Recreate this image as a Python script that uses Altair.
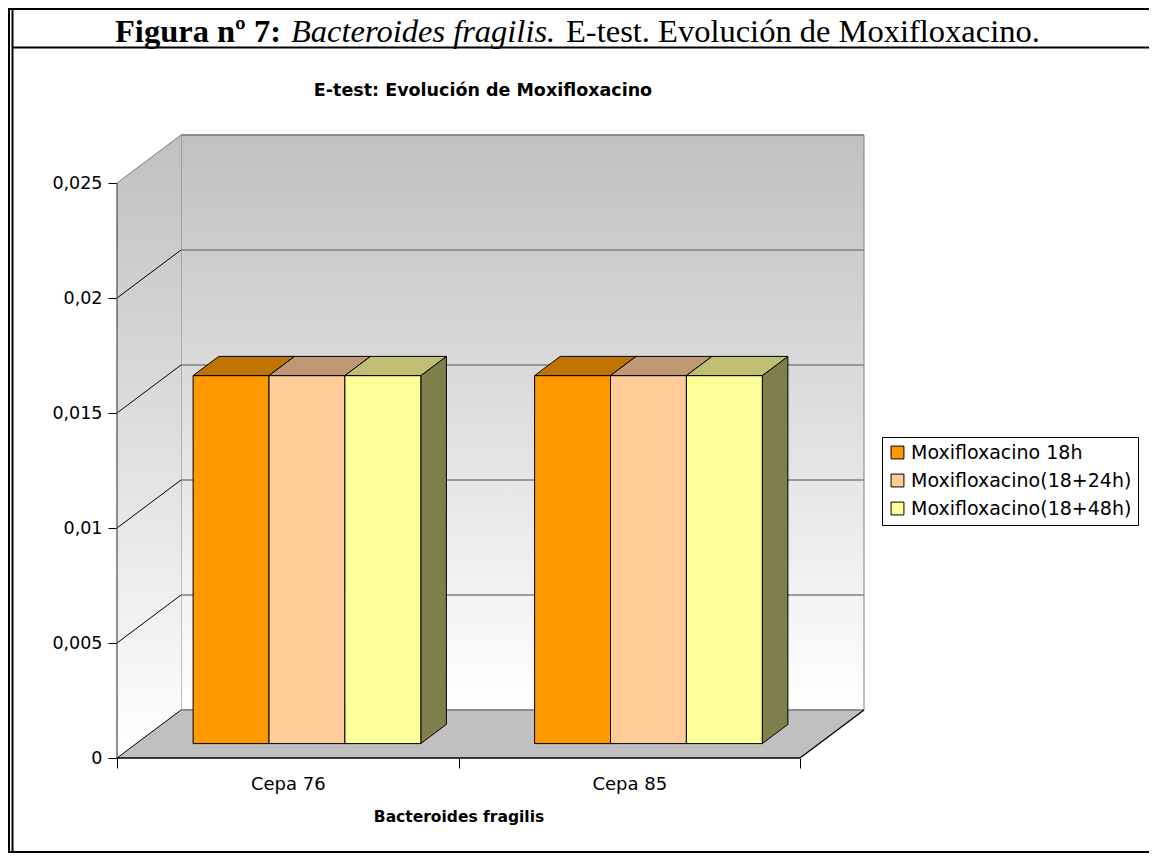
import altair as alt
import pandas as pd

# ---------------- data ----------------
categories = ["Cepa 76", "Cepa 85"]
series = ["Moxifloxacino 18h", "Moxifloxacino(18+24h)", "Moxifloxacino(18+48h)"]
moxi_18h = [0.016, 0.016]
moxi_18_24h = [0.016, 0.016]
moxi_18_48h = [0.016, 0.016]
y_ticks = [0, 0.005, 0.01, 0.015, 0.02, 0.025]
y_max = 0.025

front_colors = ["#FF9900", "#FFCC99", "#FFFF99"]
top_colors = ["#BF7300", "#BF9973", "#BFBF73"]
side_colors = ["#804D00", "#806650", "#7F7F4C"]

# ---------------- layout (pseudo 3-D projection) ----------------
PX_PER_CAT = 341.5
PX_PER_VAL = 23000.0
DEPTH_PX_X, DEPTH_PX_Y = 64.0, 48.0
N = len(categories)
DX = DEPTH_PX_X / PX_PER_CAT
DY = DEPTH_PX_Y / PX_PER_VAL
W = round(N * PX_PER_CAT + DEPTH_PX_X)
H = round(y_max * PX_PER_VAL + DEPTH_PX_Y)
F0, F1 = 0.3, 0.7          # bar depth span (fraction of floor depth)
BAR_W = 1 / 4.5            # gap width 150 %
SANS = "DejaVu Sans"
SERIF = "Liberation Serif"

xs = alt.Scale(domain=[0, N + DX], nice=False, zero=False)
ys = alt.Scale(domain=[0, y_max + DY], nice=False, zero=False)

values = [moxi_18h, moxi_18_24h, moxi_18_48h]

front_rows, top_rows, side_rows = [], [], []
for i, cat in enumerate(categories):
    for j, s in enumerate(series):
        v = values[j][i]
        xl = i + (1 - len(series) * BAR_W) / 2 + j * BAR_W
        xr = xl + BAR_W
        bid = f"{cat}-{j}"
        front_rows.append(dict(serie=s, x=xl + F0 * DX, x2=xr + F0 * DX,
                               y=F0 * DY, y2=v + F0 * DY))
        for f in (F0, F1):
            top_rows.append(dict(id=bid, c=top_colors[j], y=v + f * DY,
                                 x=xl + f * DX, x2=xr + f * DX))
            side_rows.append(dict(id=bid, c=side_colors[j], x=xr + f * DX,
                                  y=f * DY, y2=v + f * DY))

front_df = pd.DataFrame(front_rows)
top_df = pd.DataFrame(top_rows)
side_df = pd.DataFrame(side_rows)

wall_grad = alt.LinearGradient(
    gradient="linear",
    stops=[alt.GradientStop(color="#C0C0C0", offset=0),
           alt.GradientStop(color="#FFFFFF", offset=1)],
    x1=0, x2=0, y1=0, y2=1)

label_expr = " : ".join(
    f"datum.value == {i + 0.5} ? '{c}'" for i, c in enumerate(categories)) + " : ''"

x_axis = alt.Axis(
    values=[k * 0.5 for k in range(2 * N + 1)], labelExpr=label_expr,
    tickOpacity={"condition": {"test": "datum.value % 1 != 0", "value": 0}, "value": 1},
    domain=False, grid=False, tickColor="black", tickSize=10, tickWidth=1,
    labelFont=SANS, labelFontSize=18, labelColor="black", labelPadding=7,
    labelAngle=0, labelFlush=False, labelOverlap=False,
    title="Bacteroides fragilis", titleFont=SANS, titleFontSize=15.5,
    titleFontWeight="bold", titleColor="black",
    titleX=N * PX_PER_CAT / 2, titleY=63, titleBaseline="alphabetic")
y_axis = alt.Axis(
    values=y_ticks, format=".3~f", labelExpr="replace(datum.label, '.', ',')",
    domain=False, grid=False, tickColor="black", tickSize=9, tickWidth=1,
    labelFont=SANS, labelFontSize=17.5, labelColor="black", labelPadding=6,
    title=None)


def X(f):
    return alt.X(f, type="quantitative", scale=xs, axis=x_axis, stack=None)


def Y(f):
    return alt.Y(f, type="quantitative", scale=ys, axis=y_axis, stack=None)


# ---------------- walls & floor ----------------
back_wall = alt.Chart(pd.DataFrame([dict(x=DX, x2=N + DX, y=DY, y2=y_max + DY)])).mark_rect(
    color=wall_grad, stroke="#808080", strokeWidth=1
).encode(x=X("x"), x2="x2", y=Y("y"), y2="y2")

left_wall = alt.Chart(pd.DataFrame([dict(x=0, y=0, y2=y_max),
                                    dict(x=DX, y=DY, y2=y_max + DY)])).mark_area(
    color=wall_grad, orient="vertical"
).encode(x=X("x"), y=Y("y"), y2="y2")

floor = alt.Chart(pd.DataFrame([dict(y=0, x=0, x2=N),
                                dict(y=DY, x=DX, x2=N + DX)])).mark_area(
    color="#C0C0C0", orient="horizontal"
).encode(y=Y("y"), x=X("x"), x2="x2")

# gridlines on back wall and slanted lines on the left wall
back_grid = alt.Chart(pd.DataFrame([dict(v=v, x=DX, x2=N + DX, y=v + DY) for v in y_ticks])).mark_rule(
    color="#808080", strokeWidth=1.3
).encode(x=X("x"), x2="x2", y=Y("y"))

side_grid = alt.Chart(pd.DataFrame(
    [dict(x=0, y=v, x2=DX, y2=v + DY, c=("#808080" if v == y_max else "black")) for v in y_ticks]
)).mark_rule(strokeWidth=1).encode(
    x=X("x"), y=Y("y"), x2="x2", y2="y2", color=alt.Color("c:N", scale=None))

edges = alt.Chart(pd.DataFrame([
    dict(x=0, y=0, x2=0, y2=y_max, c="#555555"),
    dict(x=0, y=0, x2=N, y2=0, c="black"),
    dict(x=N, y=0, x2=N + DX, y2=DY, c="black"),
])).mark_rule(strokeWidth=1.3).encode(
    x=X("x"), y=Y("y"), x2="x2", y2="y2", color=alt.Color("c:N", scale=None))

# ---------------- 3-D bars ----------------
sides = alt.Chart(side_df).mark_area(orient="vertical", stroke="black", strokeWidth=1).encode(
    x=X("x"), y=Y("y"), y2="y2", detail="id:N", color=alt.Color("c:N", scale=None))

fronts = alt.Chart(front_df).mark_rect(stroke="black", strokeWidth=1).encode(
    x=X("x"), x2="x2", y=Y("y"), y2="y2",
    color=alt.Color("serie:N", scale=alt.Scale(domain=series, range=front_colors),
                    legend=alt.Legend(
                        title=None, orient="none", legendX=765, legendY=302,
                        strokeColor="black", fillColor="white", padding=6,
                        symbolType="square", symbolSize=165, symbolStrokeColor="black",
                        symbolStrokeWidth=1, symbolOpacity=1,
                        labelFont=SANS, labelFontSize=19, labelColor="black",
                        labelOffset=4, rowPadding=8, labelLimit=400)))

tops = alt.Chart(top_df).mark_area(orient="horizontal", stroke="black", strokeWidth=1).encode(
    y=Y("y"), x=X("x"), x2="x2", detail="id:N", color=alt.Color("c:N", scale=None))

# ---------------- texts & frame ----------------
one = alt.Data(values=[{}])


def text(t, x, y, **kw):
    return alt.Chart(one).mark_text(**kw).encode(
        x=alt.value(x), y=alt.value(y), text=alt.value(t))


OX, OY = 117, 135  # page position of the plot origin
S = 32.5
TB = 42
title_bold = text("Figura nº 7:", 115 - OX, TB - OY, font=SERIF, fontSize=S,
                  fontWeight="bold", align="left", baseline="alphabetic", color="black")
title_ital = text("Bacteroides fragilis.", 291 - OX, TB - OY, font=SERIF, fontSize=S,
                  fontStyle="italic", align="left", baseline="alphabetic", color="black")
title_reg = text("E-test. Evolución de Moxifloxacino.", 566 - OX, TB - OY, font=SERIF,
                 fontSize=S, align="left", baseline="alphabetic", color="black")
chart_title = text("E-test: Evolución de Moxifloxacino", 483 - OX, 96 - OY, font=SANS,
                   fontSize=17.5, fontWeight="bold", align="center", baseline="alphabetic",
                   color="black")


def hline(y, x1, x2, w=2):
    return alt.Chart(one).mark_rule(color="black", strokeWidth=w).encode(
        x=alt.value(x1 - OX), x2=alt.value(x2 - OX), y=alt.value(y - OY))


def vline(x, y1, y2, w=2):
    return alt.Chart(one).mark_rule(color="black", strokeWidth=w).encode(
        x=alt.value(x - OX), y=alt.value(y1 - OY), y2=alt.value(y2 - OY))


frame = [
    hline(9, 8, 1157), hline(47.5, 12, 1157), hline(852, 8, 1157),
    vline(9, 8, 853), vline(12.5, 8, 853),
]

chart = alt.layer(
    back_wall, left_wall, floor, back_grid, side_grid, edges,
    sides, fronts, tops,
    title_bold, title_ital, title_reg, chart_title, *frame
).properties(
    width=W, height=H,
    autosize=alt.AutoSizeParams(type="none"),
    padding={"left": OX - 8, "top": OY - 8,
             "right": 1141 - (OX - 8) - W, "bottom": 845 - (OY - 8) - H},
    background="white",
).configure_view(stroke=None)

chart.save("out.html", embed_options={"renderer": "svg", "actions": False})
